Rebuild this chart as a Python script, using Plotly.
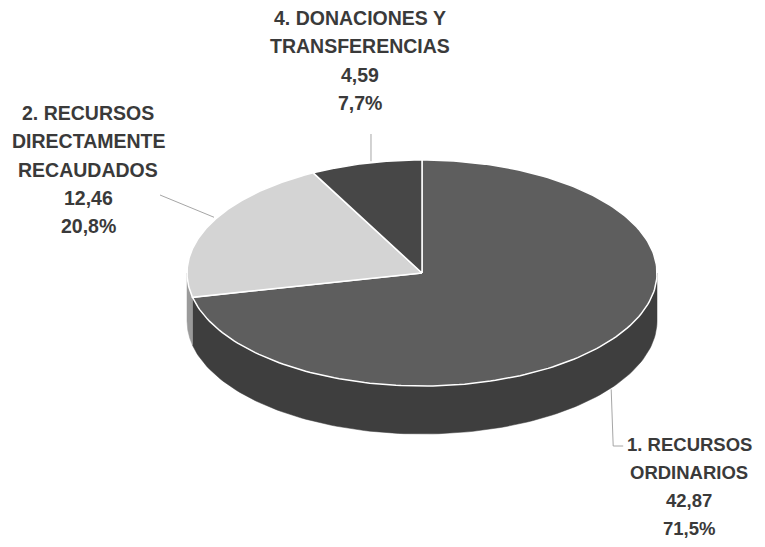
import numpy as np
import plotly.graph_objects as go

# ---- data ----
categories = ["1. RECURSOS<br>ORDINARIOS",
              "2. RECURSOS<br>DIRECTAMENTE<br>RECAUDADOS",
              "4. DONACIONES Y<br>TRANSFERENCIAS"]
values = [42.87, 12.46, 4.59]
top_colors = ["#5e5e5e", "#d4d4d4", "#474747"]
side_colors = ["#3e3e3e", "#9a9a9a", "#303030"]

# ---- geometry (pixel-like axis units) ----
W, H = 765, 547
PAD = 8  # page body margin
cx, cy, rx, ry, depth = 422, 273, 235, 113, 48

def pt(theta_deg, dy=0.0):
    t = np.radians(theta_deg)
    return cx + rx * np.sin(t), cy - ry * np.cos(t) + dy

total = sum(values)
fracs = [v / total for v in values]
bounds = np.concatenate([[0], np.cumsum(fracs) * 360])

fig = go.Figure()

# side walls (front half: 90..270 deg clockwise from top)
for i in range(len(values)):
    a, b = max(bounds[i], 90), min(bounds[i + 1], 270)
    if b <= a:
        continue
    th = np.linspace(a, b, 120)
    xt, yt = pt(th)
    xb, yb = pt(th[::-1], depth)
    fig.add_trace(go.Scatter(x=np.concatenate([xt, xb, [xt[0]]]),
                             y=np.concatenate([yt, yb, [yt[0]]]),
                             fill="toself", fillcolor=side_colors[i],
                             line=dict(color=side_colors[i], width=0.5),
                             mode="lines", hoverinfo="skip", showlegend=False))

# top slices
for i in range(len(values)):
    th = np.linspace(bounds[i], bounds[i + 1], 200)
    xs, ys = pt(th)
    fig.add_trace(go.Scatter(x=np.concatenate([[cx], xs, [cx]]),
                             y=np.concatenate([[cy], ys, [cy]]),
                             fill="toself", fillcolor=top_colors[i],
                             line=dict(color="white", width=1.5),
                             mode="lines", hoverinfo="skip", showlegend=False))

def fmt(v, d):
    return f"{v:.{d}f}".replace(".", ",")

# label layout (centre x, first line y, font size)
label_pos = [(689, 444, 18.5), (88, 113, 19.5), (360, 18, 19.5)]
step = 28.3
for i, cat in enumerate(categories):
    lines = cat.split("<br>") + [fmt(values[i], 2), fmt(fracs[i] * 100, 1) + "%"]
    lx, ly, fs = label_pos[i]
    font = dict(family="Liberation Sans, Arial, sans-serif", size=fs, color="#3a3a3a")
    for k, ln in enumerate(lines):
        fig.add_annotation(x=lx, y=ly + k * step, text="<b>" + ln + "</b>",
                           showarrow=False, font=font, xanchor="center", yanchor="middle")

# leader lines
lc = dict(color="#a6a6a6", width=1)
mid = [(bounds[i] + bounds[i + 1]) / 2 for i in range(len(values))]
x1, y1 = pt(mid[0], depth * 0.95)
fig.add_trace(go.Scatter(x=[x1 + 6, x1 + 8, x1 + 18], y=[y1, 446, 446], mode="lines",
                         line=lc, hoverinfo="skip", showlegend=False))
x2, y2 = pt(mid[1])
fig.add_trace(go.Scatter(x=[160, x2 + 5], y=[195, y2 - 8], mode="lines",
                         line=lc, hoverinfo="skip", showlegend=False))
x4, y4 = pt(mid[2])
fig.add_trace(go.Scatter(x=[x4 + 5, x4 + 5], y=[134, y4 - 2], mode="lines",
                         line=lc, hoverinfo="skip", showlegend=False))

fig.update_xaxes(range=[PAD, W - PAD], visible=False, fixedrange=True)
fig.update_yaxes(range=[H - PAD, PAD], visible=False, fixedrange=True)
fig.update_layout(width=W - 2 * PAD, height=H - 2 * PAD, margin=dict(l=0, r=0, t=0, b=0),
                  paper_bgcolor="white", plot_bgcolor="white")
fig.write_html("out.html", config={"displayModeBar": False})
